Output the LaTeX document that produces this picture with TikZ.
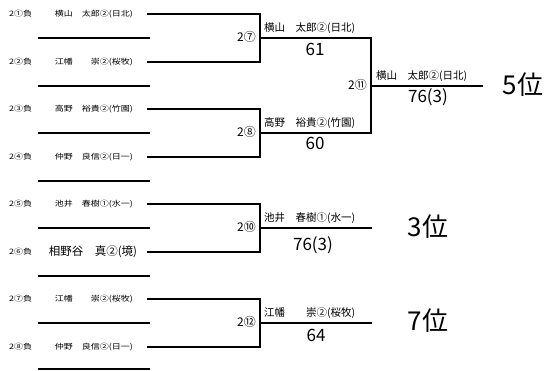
\documentclass[tikz,border=0pt]{standalone}
\usepackage{fontspec}
\setmainfont{Noto Sans CJK JP}
\newfontfamily\widejp[FakeStretch=1.2]{Noto Sans CJK JP}
\usetikzlibrary{calc,positioning}

\begin{document}
\begin{tikzpicture}[x=1pt,y=-1pt,line width=2.2pt,
	loser/.style={font=\widejp\fontsize{7.5}{8}\selectfont,inner sep=0pt,anchor=west},
	entrant/.style={font=\widejp\fontsize{7.5}{9}\selectfont,inner sep=0pt},
	game/.style={font=\fontsize{12}{13}\selectfont,inner sep=0pt,anchor=east},
	winner/.style={font=\fontsize{10.5}{12}\selectfont,inner sep=0pt,anchor=base west},
	score/.style={font=\fontsize{17}{18}\selectfont,inner sep=0pt},
	place/.style={font=\fontsize{26}{28}\selectfont,inner sep=0pt}]
	\useasboundingbox (0,0) rectangle (544,371);
	% first round entries
	\coordinate (e1) at (147,14);
	\coordinate (e2) at (147,62);
	\coordinate (e3) at (147,109);
	\coordinate (e4) at (147,157);
	\coordinate (e5) at (147,204);
	\coordinate (e6) at (147,252);
	\coordinate (e7) at (147,299);
	\coordinate (e8) at (147,347);
	% blank lines
	\coordinate (b1) at (38,38);   \coordinate (b1e) at (150,38);
	\coordinate (b2) at (38,86);   \coordinate (b2e) at (150,86);
	\coordinate (b3) at (38,133);  \coordinate (b3e) at (150,133);
	\coordinate (b4) at (38,181);  \coordinate (b4e) at (150,181);
	\coordinate (b5) at (38,228);  \coordinate (b5e) at (150,228);
	\coordinate (b6) at (38,276);  \coordinate (b6e) at (150,276);
	\coordinate (b7) at (38,323);  \coordinate (b7e) at (150,323);
	\coordinate (b8) at (38,369);  \coordinate (b8e) at (150,369);
	% games
	\coordinate (g7) at (260,38);
	\coordinate (g8) at (260,133);
	\coordinate (g10) at (260,228);
	\coordinate (g12) at (260,323);
	\coordinate (g11) at (371,86);
	\coordinate (w7) at (371,38);
	\coordinate (w8) at (371,133);
	\coordinate (w10) at (372,228);
	\coordinate (w12) at (372,323);
	\coordinate (w11) at (483,86);

	\foreach \i in {1,...,8} {\draw (b\i) -- (b\i e);}
	\draw (e1) -| (g7) |- (e2);
	\draw (e3) -| (g8) |- (e4);
	\draw (e5) -| (g10) |- (e6);
	\draw (e7) -| (g12) |- (e8);
	\draw (g7) -- (w7) -- (w8) -- (g8);
	\draw (g11) -- (w11);
	\draw (g10) -- (w10);
	\draw (g12) -- (w12);

	% entrants
	\node[loser] (l1) at (8,14) {2①負};
	\node[loser] (l2) at (8,62) {2②負};
	\node[loser] (l3) at (8,109) {2③負};
	\node[loser] (l4) at (8,157) {2④負};
	\node[loser] (l5) at (8,204) {2⑤負};
	\node[loser] (l6) at (8,252) {2⑥負};
	\node[loser] (l7) at (8,299) {2⑦負};
	\node[loser] (l8) at (8,347) {2⑧負};
	\node[entrant] (n1) at (94,14) {横山　太郎②(日北)};
	\node[entrant] (n2) at (94,62) {江幡　　崇②(桜牧)};
	\node[entrant] (n3) at (94,109) {高野　裕貴②(竹園)};
	\node[entrant] (n4) at (94,157) {仲野　良信②(日一)};
	\node[entrant] (n5) at (94,204) {池井　春樹①(水一)};
	\node[entrant,font=\fontsize{11.5}{13}\selectfont] (n6) at (93,252) {相野谷　真②(境)};
	\node[entrant] (n7) at (94,299) {江幡　　崇②(桜牧)};
	\node[entrant] (n8) at (94,347) {仲野　良信②(日一)};

	% results
	\node[game] (t7) at (257,37) {2⑦};
	\node[game] (t8) at (257,132) {2⑧};
	\node[game] (t10) at (257,227) {2⑩};
	\node[game] (t12) at (257,322) {2⑫};
	\node[game] (t11) at (368,85) {2⑪};
	\node[winner] (r7) at (263,32) {横山　太郎②(日北)};
	\node[winner] (r8) at (263,127) {高野　裕貴②(竹園)};
	\node[winner] (r10) at (263,222) {池井　春樹①(水一)};
	\node[winner] (r12) at (263,317) {江幡　　崇②(桜牧)};
	\node[winner] (r11) at (375,80) {横山　太郎②(日北)};
	\node[score] (s7) at (315,49) {61};
	\node[score] (s8) at (315,143) {60};
	\node[score] (s10) at (313,245) {76(3)};
	\node[score] (s12) at (316,335) {64};
	\node[score] (s11) at (428,97) {76(3)};
	\node[place] (p11) at (523,85) {5位};
	\node[place] (p10) at (428,227) {3位};
	\node[place] (p12) at (428,321) {7位};
\end{tikzpicture}
\end{document}
